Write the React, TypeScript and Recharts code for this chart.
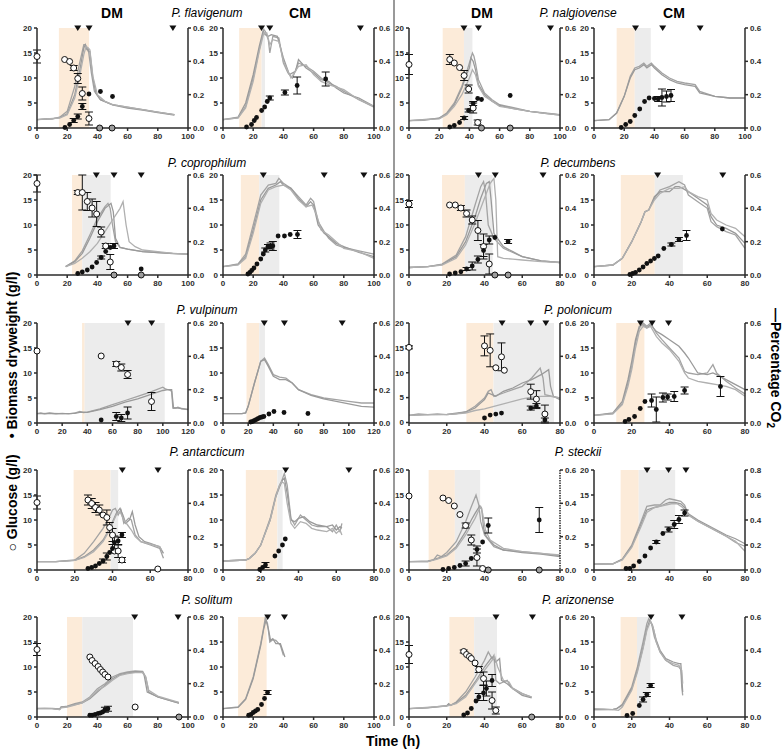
import React from "react";
import {
  ComposedChart,
  ErrorBar,
  Line,
  ReferenceArea,
  Scatter,
  XAxis,
  YAxis,
} from "recharts";

// [time, value, error?] ; phases = [orange start, orange end / gray start, gray end]
const flaDmGlc = [[0, 14.3, 1.3], [18.3, 13.7], [21.6, 13.3], [24.3, 12.0, 0.5], [27, 9.9, 1], [30, 6.9, 1.3], [34.4, 1.9, 1.3], [41.5, 0], [49.7, 0]];
const flaDmBio = [[18.5, 0.1], [21.6, 0.7], [24.3, 1.5, 0.4], [27, 2.3, 0.5], [30, 4.3, 0.6], [34.4, 6.8], [42, 7.3], [50, 6.3]];
const flaDmCo2 = [
  [[0, 0.05], [5, 0.055], [10, 0.055], [15, 0.065], [20, 0.1], [25, 0.25], [28, 0.38], [31, 0.5], [32, 0.5], [33, 0.47], [34, 0.47], [36, 0.33], [38, 0.22], [42, 0.17], [50, 0.14], [60, 0.125], [70, 0.11], [80, 0.095], [91, 0.08]],
  [[0, 0.05], [10, 0.055], [15, 0.062], [20, 0.085], [25, 0.2], [28, 0.33], [31, 0.48], [32, 0.5], [34, 0.46], [35, 0.46], [37, 0.3], [39, 0.21], [42, 0.17], [50, 0.138], [60, 0.12], [70, 0.108], [80, 0.093], [91, 0.078]],
  [[0, 0.05], [15, 0.06], [20, 0.08], [25, 0.18], [28, 0.3], [31, 0.44], [32.5, 0.49], [34, 0.48], [35, 0.47], [37, 0.31], [40, 0.2], [45, 0.16], [50, 0.14], [60, 0.125], [70, 0.11], [80, 0.095], [91, 0.08]],
];
const flaDmPhase = [14.5, 34.5, 34.5];
const flaDmTri = [27, 34.5, 90];

const flaCmGlc: number[][] = [];
const flaCmBio = [[15.6, 0.2], [18.9, 0.7], [20.7, 1.5], [22.2, 2.1], [25.6, 3.5], [27.6, 4.2], [29.3, 5.3], [31, 6.0, 0.4], [41, 7.1, 0.5], [49.1, 8.5, 1.7], [68, 9.8, 1.4]];
const flaCmCo2 = [
  [[0, 0.05], [10, 0.06], [15, 0.13], [20, 0.3], [24, 0.47], [27, 0.59], [28, 0.58], [30, 0.53], [31, 0.45], [33, 0.55], [37, 0.54], [40, 0.39], [43, 0.33], [46, 0.3], [50, 0.39], [55, 0.37], [60, 0.34], [65, 0.3], [70, 0.27], [75, 0.25], [80, 0.22], [90, 0.17], [100, 0.125]],
  [[0, 0.05], [10, 0.065], [15, 0.15], [20, 0.32], [24, 0.49], [26.5, 0.58], [28, 0.56], [30, 0.55], [32, 0.56], [36, 0.55], [40, 0.42], [44, 0.32], [48, 0.34], [50, 0.41], [55, 0.36], [60, 0.33], [65, 0.29], [70, 0.28], [75, 0.24], [80, 0.21], [90, 0.18], [100, 0.13]],
  [[0, 0.05], [10, 0.06], [15, 0.12], [20, 0.28], [24, 0.46], [27, 0.57], [29, 0.57], [31, 0.5], [33, 0.53], [37, 0.52], [40, 0.4], [45, 0.3], [50, 0.37], [55, 0.38], [60, 0.32], [65, 0.28], [70, 0.26], [80, 0.23], [90, 0.17], [100, 0.13]],
];
const flaCmPhase = [10.7, 25.6, 27.8];
const flaCmTri = [25.5, 31, 91];

const nalDmGlc = [[0, 12.7, 2], [27, 13.7, 1], [30, 13.0], [33.5, 12.1], [36.5, 10.5, 1], [39.5, 7.8, 0.8], [42.5, 4.0, 1], [45.5, 1.1, 0.5], [48, 0], [67, 0]];
const nalDmBio = [[27, 0.2], [30, 0.5], [33.5, 1.1], [36.5, 2.0, 0.3], [39.5, 3.5, 0.3], [42.5, 4.9, 0.4], [45.5, 5.9], [48, 5.7], [67, 6.5]];
const nalDmCo2 = [
  [[0, 0.044], [10, 0.046], [20, 0.06], [25, 0.09], [30, 0.15], [35, 0.25], [38, 0.33], [40, 0.39], [42, 0.45], [43, 0.43], [44, 0.39], [46, 0.29], [50, 0.21], [55, 0.17], [60, 0.14], [70, 0.12], [80, 0.1], [90, 0.09], [100, 0.08]],
  [[0, 0.044], [20, 0.058], [25, 0.085], [30, 0.14], [35, 0.24], [38, 0.32], [40, 0.36], [41, 0.42], [42.5, 0.4], [44, 0.35], [46, 0.26], [50, 0.2], [55, 0.16], [60, 0.135], [70, 0.115], [80, 0.1], [90, 0.088], [100, 0.078]],
  [[0, 0.044], [20, 0.055], [25, 0.08], [30, 0.13], [35, 0.2], [38, 0.26], [40, 0.3], [42, 0.35], [44, 0.32], [46, 0.25], [50, 0.19], [55, 0.16], [60, 0.13], [70, 0.115], [80, 0.1], [90, 0.088], [100, 0.078]],
];
const nalDmPhase = [22.3, 36.4, 42];
const nalDmTri = [36.4, 46, 93.7];

const nalCmGlc: number[][] = [];
const nalCmBio = [[18, 0.1], [21, 0.7], [24, 1.3], [27, 2.5], [30.3, 3.8], [33.5, 5.3], [36.5, 6.0], [40, 5.9], [42.5, 5.8, 0.5], [45, 6.1, 1.7], [48, 6.3, 1.1], [51, 6.5, 1.2]];
const nalCmCo2 = [
  [[0, 0.044], [10, 0.05], [15, 0.09], [20, 0.19], [24, 0.31], [27, 0.36], [30, 0.37], [33, 0.39], [35, 0.37], [38, 0.39], [40, 0.37], [45, 0.33], [50, 0.3], [55, 0.28], [60, 0.27], [67, 0.26], [70, 0.22], [80, 0.19], [90, 0.18], [100, 0.18]],
  [[0, 0.044], [10, 0.05], [15, 0.09], [20, 0.19], [24, 0.3], [27, 0.35], [30, 0.36], [33, 0.38], [35, 0.36], [38, 0.38], [40, 0.36], [45, 0.32], [50, 0.29], [55, 0.27], [60, 0.26], [67, 0.25], [70, 0.21], [80, 0.19], [90, 0.18], [100, 0.18]],
];
const nalCmPhase = [15, 27, 37.6];
const nalCmTri = [27.5, 45.5, 70.3];

const copDmGlc = [[0, 18.3, 1.7], [27, 16.5, 0.4], [30, 16.5, 3.5], [33.3, 14.7, 1.8], [36.5, 13.4, 1.8], [39.5, 12.2, 2.5], [42.5, 8.6, 1], [45.5, 5.8, 0.5], [48.5, 2.6, 1.5], [51, 0], [69, 0]];
const copDmBio = [[27, 0.3], [30, 0.6], [33.3, 1.0], [36.5, 1.6], [39.5, 2.5], [42.5, 3.5, 0.3], [45.5, 4.7], [48.5, 5.5], [51, 5.8, 0.5], [69, 1.2]];
const copDmCo2 = [
  [[19, 0.05], [25, 0.085], [30, 0.145], [35, 0.24], [40, 0.34], [45, 0.41], [47, 0.43], [48.5, 0.4], [50, 0.3], [52, 0.2], [55, 0.165], [60, 0.155], [70, 0.14], [80, 0.135], [90, 0.13], [100, 0.125]],
  [[19, 0.05], [25, 0.08], [30, 0.13], [35, 0.22], [40, 0.32], [45, 0.4], [49, 0.43], [50.5, 0.38], [52, 0.22], [55, 0.165], [60, 0.155], [70, 0.14], [80, 0.135], [90, 0.128], [100, 0.125]],
  [[19, 0.05], [25, 0.07], [30, 0.1], [35, 0.14], [40, 0.19], [45, 0.26], [50, 0.33], [55, 0.4], [57, 0.44], [59, 0.3], [61, 0.2], [65, 0.17], [70, 0.15], [80, 0.14], [90, 0.13], [100, 0.125]],
];
const copDmPhase = [23.2, 30, 48.8];
const copDmTri = [39.3, 51, 69];

const copCmGlc: number[][] = [];
const copCmBio = [[16.5, 0.2], [17.8, 0.5], [19, 0.9], [20.5, 1.4], [22.5, 2.2], [25, 3.2], [26.7, 4.2], [28, 5.0, 0.4], [29.8, 5.7, 0.4], [31.5, 5.8, 0.6], [33, 5.8, 0.9], [36.5, 7.8], [40.7, 7.8], [44.5, 8.1], [49.3, 8.1, 0.8]];
const copCmCo2 = [
  [[0, 0.05], [10, 0.066], [15, 0.125], [20, 0.3], [25, 0.48], [30, 0.54], [35, 0.55], [37, 0.58], [40, 0.55], [45, 0.52], [50, 0.47], [55, 0.42], [58, 0.46], [60, 0.44], [63, 0.32], [67, 0.26], [70, 0.22], [75, 0.18], [80, 0.165], [90, 0.145], [100, 0.125]],
  [[0, 0.05], [10, 0.062], [15, 0.11], [20, 0.27], [25, 0.45], [30, 0.52], [35, 0.54], [38, 0.56], [40, 0.54], [45, 0.52], [50, 0.46], [55, 0.41], [58, 0.44], [60, 0.42], [63, 0.3], [67, 0.25], [70, 0.23], [75, 0.19], [80, 0.17], [90, 0.135], [100, 0.11]],
  [[0, 0.05], [10, 0.06], [15, 0.1], [20, 0.25], [25, 0.43], [30, 0.51], [35, 0.53], [40, 0.54], [45, 0.51], [50, 0.45], [55, 0.41], [59, 0.42], [62, 0.36], [65, 0.27], [70, 0.24], [75, 0.2], [80, 0.16], [90, 0.14], [100, 0.1]],
];
const copCmPhase = [11.8, 24, 37.3];
const copCmTri = [26.7, 67, 93.3];

const decDmGlc = [[0, 14.2, 0.7], [21.5, 14.0], [24.5, 14.0], [27.5, 13.4, 0.5], [30.5, 12.3, 0.7], [33.5, 11.0, 0.8], [36.5, 8.9, 2], [39.5, 5.7, 2.5], [42.5, 2.2, 2], [45.5, 0], [52.5, 0]];
const decDmBio = [[21.5, 0.2], [24.5, 0.4], [27.5, 0.65], [30.5, 1.2, 0.3], [33.5, 1.8, 0.8], [36.5, 3.1, 0.7], [39.5, 4.9, 1.2], [42.5, 7.0, 0.8], [45.5, 7.5], [52.5, 6.7, 0.4]];
const decDmCo2 = [
  [[0, 0.045], [10, 0.05], [17.5, 0.065], [25, 0.12], [30, 0.23], [35, 0.42], [38, 0.53], [39.5, 0.56], [40.5, 0.5], [42, 0.3], [45, 0.22], [50, 0.16], [55, 0.135], [60, 0.11], [70, 0.085], [80, 0.075]],
  [[0, 0.045], [10, 0.05], [17.5, 0.062], [25, 0.11], [30, 0.2], [35, 0.35], [38, 0.46], [41, 0.55], [42.5, 0.56], [43.5, 0.45], [45, 0.25], [50, 0.17], [55, 0.14], [60, 0.11], [70, 0.085], [80, 0.075]],
  [[0, 0.045], [10, 0.05], [17.5, 0.06], [25, 0.1], [30, 0.18], [35, 0.31], [38, 0.4], [41, 0.49], [43, 0.55], [45, 0.58], [46, 0.45], [47, 0.11], [50, 0.1], [55, 0.095], [60, 0.09], [70, 0.08], [80, 0.075]],
];
const decDmPhase = [17.5, 29.6, 44.3];
const decDmTri = [36.8, 45.7, 71];

const decCmGlc: number[][] = [];
const decCmBio = [[19, 0.1], [20.5, 0.3], [22, 0.5], [24, 1.0], [26, 1.6], [28, 2.3], [30, 2.8], [32, 3.3], [34, 3.8], [37, 5.3], [41, 6.1, 0.3], [45, 7.1, 0.4], [49, 7.9, 1], [68, 9.2]];
const decCmCo2 = [
  [[0, 0.05], [10, 0.06], [15, 0.1], [20, 0.2], [25, 0.32], [27, 0.38], [29, 0.39], [32, 0.46], [35, 0.51], [40, 0.53], [45, 0.56], [48, 0.54], [50, 0.48], [55, 0.44], [60, 0.4], [62, 0.32], [65, 0.29], [70, 0.26], [75, 0.24], [80, 0.16]],
  [[0, 0.05], [10, 0.06], [15, 0.1], [20, 0.2], [25, 0.32], [27, 0.38], [29, 0.39], [32, 0.47], [35, 0.5], [40, 0.5], [43, 0.53], [45, 0.53], [47, 0.52], [50, 0.5], [55, 0.46], [60, 0.42], [62, 0.35], [65, 0.3], [70, 0.28], [75, 0.25], [80, 0.19]],
  [[0, 0.05], [10, 0.06], [15, 0.1], [20, 0.2], [25, 0.32], [27, 0.38], [29, 0.39], [32, 0.45], [35, 0.49], [40, 0.52], [45, 0.52], [48, 0.53], [50, 0.5], [55, 0.47], [60, 0.45], [62, 0.37], [65, 0.33], [70, 0.3], [75, 0.28], [80, 0.23]],
];
const decCmPhase = [14.2, 32.2, 47.1];
const decCmTri = [33.7, 68.2];

const vulDmGlc = [[0, 14.4], [51, 13.4], [63, 11.8, 0.5], [67, 11.1, 0.7], [72, 9.7, 0.8], [91, 4.3, 1.8]];
const vulDmBio = [[51, 0.6], [63, 1.3, 0.8], [67, 1.0, 0.7], [72, 2.0, 1.2]];
const vulDmCo2 = [
  [[0, 0.056], [3, 0.06], [6, 0.055], [10, 0.06], [15, 0.055], [20, 0.058], [25, 0.055], [30, 0.06], [34, 0.07], [37, 0.063], [40, 0.065], [50, 0.085], [60, 0.11], [70, 0.135], [80, 0.16], [90, 0.185], [100, 0.215], [102, 0.205], [106, 0.195], [107, 0.19], [108, 0.09], [110, 0.09], [112, 0.095], [115, 0.085], [120, 0.08]],
  [[0, 0.056], [10, 0.058], [20, 0.056], [30, 0.058], [35, 0.065], [40, 0.064], [50, 0.08], [60, 0.1], [70, 0.125], [80, 0.145], [90, 0.17], [100, 0.195], [104, 0.2], [107, 0.2], [108.5, 0.09], [112, 0.09], [120, 0.082]],
];
const vulDmPhase = [35.8, 37.9, 101.5];
const vulDmTri = [72.3, 91.1];

const vulCmGlc: number[][] = [];
const vulCmBio = [[22, 0.2], [23.5, 0.3], [25, 0.5], [26.5, 0.7], [28, 0.9], [29.5, 1.1], [31, 1.2], [32.5, 1.3], [36.5, 1.8], [40.5, 2.3], [48.5, 2.1], [67.5, 1.9]];
const vulCmCo2 = [
  [[0, 0.056], [10, 0.056], [15, 0.056], [18, 0.06], [20, 0.1], [25, 0.24], [30, 0.37], [33, 0.39], [36, 0.35], [40, 0.29], [45, 0.275], [50, 0.27], [55, 0.24], [60, 0.2], [70, 0.17], [80, 0.15], [90, 0.14], [100, 0.13], [110, 0.12], [120, 0.12]],
  [[0, 0.056], [15, 0.056], [18, 0.06], [20, 0.1], [25, 0.24], [30, 0.37], [33, 0.38], [36, 0.34], [40, 0.28], [45, 0.26], [50, 0.26], [55, 0.24], [60, 0.2], [70, 0.165], [80, 0.145], [90, 0.13], [100, 0.115], [110, 0.1], [120, 0.095]],
];
const vulCmPhase = [18.7, 28.8, 33.3];
const vulCmTri = [32.8, 48.8, 94.7];

const polDmGlc = [[0, 15.1, 0.3], [40, 15.4, 2], [43, 14.5, 3.3], [46, 11.0], [49, 13.2, 2.8], [50.5, 10.5], [64.5, 6.2, 1.5], [67.5, 4.7, 1.7], [72, 1.7, 1.8]];
const polDmBio = [[40, 0.9], [43, 1.5], [46, 1.7], [49, 1.9], [64.5, 2.9, 0.4], [67.5, 3.3, 0.5], [72, 0.5, 0.4]];
const polDmCo2 = [
  [[0, 0.046], [5, 0.055], [10, 0.05], [15, 0.055], [20, 0.05], [25, 0.055], [30, 0.066], [35, 0.1], [40, 0.15], [42, 0.19], [43.5, 0.2], [45, 0.16], [50, 0.18], [55, 0.2], [60, 0.22], [65, 0.27], [69.5, 0.33], [71, 0.27], [72, 0.17], [76, 0.16], [80, 0.15]],
  [[0, 0.046], [10, 0.05], [20, 0.052], [30, 0.066], [35, 0.09], [40, 0.14], [42, 0.18], [44, 0.17], [46, 0.16], [50, 0.19], [55, 0.21], [60, 0.24], [65, 0.26], [70, 0.29], [74, 0.32], [75, 0.22], [76.5, 0.16], [80, 0.14]],
  [[0, 0.046], [10, 0.05], [20, 0.05], [30, 0.06], [35, 0.075], [40, 0.085], [45, 0.1], [50, 0.115], [55, 0.13], [60, 0.145], [65, 0.155], [70, 0.16], [75, 0.16], [80, 0.15]],
];
const polDmPhase = [30.4, 44.8, 76.8];
const polDmTri = [49.3, 64.5, 72.5];

const polCmGlc: number[][] = [];
const polCmBio = [[16.5, 0.3], [18.5, 0.7], [21.5, 1.3], [24.5, 2.9], [27, 4.3], [30.5, 4.5, 1.3], [33, 2.7, 2.5], [36.5, 5.1, 0.9], [39, 5.2, 0.6], [42.5, 5.3, 1], [48, 6.5, 0.7], [67, 7.3, 2]];
const polCmCo2 = [
  [[0, 0.046], [10, 0.056], [15, 0.116], [18, 0.24], [20, 0.34], [22, 0.48], [24, 0.57], [26, 0.6], [28, 0.58], [30, 0.6], [33, 0.54], [36, 0.5], [40, 0.45], [45, 0.39], [48, 0.31], [50, 0.3], [55, 0.29], [60, 0.3], [63, 0.35], [65, 0.3], [70, 0.25], [75, 0.21], [80, 0.175]],
  [[0, 0.046], [10, 0.06], [15, 0.13], [18, 0.26], [20, 0.37], [22, 0.5], [24, 0.58], [26, 0.59], [28, 0.57], [30, 0.59], [33, 0.55], [36, 0.53], [40, 0.5], [45, 0.46], [48, 0.42], [50, 0.39], [55, 0.3], [60, 0.29], [63, 0.3], [65, 0.29], [70, 0.26], [75, 0.23], [80, 0.2]],
  [[0, 0.046], [10, 0.055], [15, 0.11], [18, 0.22], [20, 0.32], [22, 0.45], [24, 0.55], [26, 0.58], [28, 0.57], [30, 0.58], [33, 0.52], [36, 0.48], [40, 0.44], [45, 0.37], [48, 0.3], [50, 0.27], [55, 0.25], [60, 0.24], [65, 0.23], [70, 0.22], [75, 0.2], [80, 0.16]],
];
const polCmPhase = [11.8, 26.7, 26.7];
const polCmTri = [24.6, 30.8, 39.5];

const antDmGlc = [[0, 13.5, 1.3], [27, 14.0, 1], [29, 13.3, 1], [31, 12.5, 1], [33, 12.0, 1], [35, 11.0], [37, 10.5, 1.5], [38.5, 8.5, 1], [40, 7.0, 1.3], [41, 3.8], [43, 3.8, 1.3], [45, 2.0, 0.5], [64, 0.2]];
const antDmBio = [[27, 0.3], [29, 0.5], [31, 0.8], [33, 1.3], [35, 1.8, 0.4], [37, 2.7, 0.7], [38.5, 3.5], [40, 4.3, 0.8], [41, 5.5, 1.3], [43, 5.8, 0.8], [45, 7.0, 0.5]];
const antDmCo2 = [
  [[0, 0.05], [10, 0.05], [20, 0.06], [25, 0.1], [30, 0.17], [35, 0.25], [38, 0.31], [40, 0.36], [41.5, 0.37], [43, 0.33], [44.5, 0.36], [46, 0.28], [48.5, 0.31], [50, 0.3], [52, 0.21], [55, 0.17], [60, 0.15], [65, 0.13], [67, 0.07]],
  [[0, 0.05], [10, 0.05], [20, 0.058], [25, 0.08], [30, 0.12], [35, 0.18], [38, 0.24], [40, 0.29], [42, 0.34], [44, 0.37], [45.5, 0.33], [47, 0.28], [49, 0.3], [50.5, 0.35], [52, 0.27], [54, 0.2], [57, 0.17], [60, 0.16], [65, 0.14], [67, 0.1]],
  [[0, 0.05], [10, 0.05], [20, 0.058], [25, 0.075], [30, 0.11], [35, 0.17], [38, 0.23], [40, 0.28], [42, 0.33], [44, 0.35], [46, 0.3], [48, 0.27], [50, 0.24], [52, 0.2], [55, 0.17], [60, 0.155], [65, 0.14], [66, 0.12]],
];
const antDmPhase = [19.4, 39, 43];
const antDmTri = [45.2, 64.1];

const antCmGlc: number[][] = [];
const antCmBio = [[19.5, 0.1], [21, 0.5], [22.5, 1.0, 0.5], [27.5, 2.8], [29.5, 3.8], [31.5, 5.0], [33, 6.2]];
const antCmCo2 = [
  [[0, 0.054], [12, 0.06], [14, 0.07], [17, 0.1], [20, 0.15], [25, 0.31], [28, 0.45], [30, 0.51], [31, 0.53], [32.5, 0.58], [34, 0.51], [36, 0.31], [38, 0.27], [41, 0.33], [44, 0.3], [47, 0.27], [50, 0.26], [55, 0.26], [58, 0.23], [60, 0.27], [62, 0.23], [63, 0.28]],
  [[0, 0.054], [12, 0.06], [14, 0.07], [17, 0.1], [20, 0.15], [25, 0.3], [28, 0.44], [30, 0.5], [31.5, 0.54], [32.5, 0.55], [34, 0.46], [36, 0.3], [38, 0.29], [40, 0.31], [43, 0.32], [46, 0.29], [50, 0.27], [55, 0.26], [58, 0.27], [60, 0.24], [62, 0.26], [63, 0.25]],
  [[0, 0.054], [12, 0.06], [14, 0.07], [17, 0.1], [20, 0.15], [25, 0.3], [28, 0.44], [30, 0.51], [31, 0.53], [32.5, 0.52], [34, 0.4], [36, 0.28], [38, 0.25], [41, 0.29], [44, 0.28], [47, 0.25], [50, 0.24], [55, 0.23], [58, 0.25], [60, 0.22], [62, 0.24], [63, 0.21]],
];
const antCmPhase = [12.1, 28.8, 31.6];
const antCmTri = [33.2, 66.7];

const steDmGlc = [[0, 14.8], [18, 14.4], [21, 13.9], [24, 12.8], [27, 11.1], [30, 8.9, 0.5], [33, 6.0, 1], [36, 2.5, 1.7], [39, 0.3], [42, 0], [69, 0]];
const steDmBio = [[18, 0.1], [21, 0.3], [24, 0.5], [27, 0.9], [30, 1.3, 0.5], [33, 2.3], [36, 4.1, 0.7], [39, 5.6], [42, 8.9, 1.5], [69, 10.0, 2.5]];
const steDmCo2 = [
  [[0, 0.05], [10, 0.054], [13, 0.06], [15, 0.09], [17, 0.08], [20, 0.105], [25, 0.17], [30, 0.29], [33, 0.38], [35.5, 0.45], [37, 0.39], [38, 0.29], [40, 0.21], [45, 0.14], [50, 0.12], [60, 0.11], [70, 0.1], [80, 0.085]],
  [[0, 0.05], [10, 0.05], [15, 0.07], [20, 0.09], [25, 0.14], [30, 0.23], [33, 0.3], [35, 0.34], [37.5, 0.385], [38.5, 0.37], [39.5, 0.25], [41, 0.2], [45, 0.15], [50, 0.12], [60, 0.105], [70, 0.095], [80, 0.08]],
  [[0, 0.05], [10, 0.05], [15, 0.065], [20, 0.085], [25, 0.13], [30, 0.21], [33, 0.27], [35, 0.31], [37, 0.36], [38, 0.38], [39, 0.34], [40.5, 0.24], [43, 0.18], [50, 0.13], [60, 0.11], [70, 0.1], [80, 0.09]],
];
const steDmPhase = [10.4, 24.3, 37.7];
const steDmTri: number[] = [];

const steCmGlc: number[][] = [];
const steCmBio = [[17, 0.3], [19, 0.3], [21, 0.8], [24, 1.7], [27, 2.8], [30, 4.4], [33, 5.6, 0.3], [36.5, 7.3], [39.5, 8.1, 0.5], [42.5, 9.1, 0.8], [45, 10.1, 0.8], [48, 11.4, 0.6]];
const steCmCo2 = [
  [[0, 0.047], [10, 0.05], [15, 0.088], [20, 0.2], [25, 0.39], [28, 0.51], [32, 0.52], [35, 0.52], [38, 0.56], [40, 0.57], [43, 0.56], [46, 0.55], [48, 0.52], [50, 0.44], [55, 0.39], [60, 0.35], [65, 0.31], [70, 0.27], [75, 0.22], [80, 0.19]],
  [[0, 0.047], [10, 0.05], [15, 0.085], [20, 0.19], [25, 0.37], [28, 0.48], [32, 0.5], [35, 0.51], [38, 0.53], [40, 0.54], [43, 0.54], [46, 0.53], [48, 0.5], [50, 0.45], [55, 0.4], [60, 0.36], [65, 0.32], [70, 0.28], [75, 0.25], [80, 0.21]],
  [[0, 0.047], [10, 0.05], [15, 0.08], [20, 0.18], [25, 0.35], [28, 0.46], [32, 0.5], [35, 0.51], [38, 0.52], [41, 0.53], [44, 0.53], [47, 0.5], [50, 0.44], [55, 0.39], [60, 0.35], [65, 0.31], [70, 0.27], [75, 0.23], [80, 0.15]],
];
const steCmPhase = [14.1, 23.7, 43];
const steCmTri = [28.1, 39.5, 48.7];

const solDmGlc = [[0, 13.5, 1.2], [35, 12.0], [36.5, 11.3], [38.5, 10.7], [40.5, 10.1], [42, 9.5], [43.5, 9.0], [45, 8.5], [47, 8.0], [65, 2.0], [94, 0]];
const solDmBio = [[35, 0.35], [36.5, 0.35], [38.5, 0.5], [40.5, 0.7], [42, 0.8], [43.5, 1.0], [45, 1.45, 0.5], [47, 1.65, 0.5]];
const solDmCo2 = [
  [[0, 0.05], [5, 0.052], [10, 0.05], [15, 0.045], [16, 0.06], [20, 0.065], [25, 0.08], [30, 0.09], [35, 0.12], [40, 0.17], [45, 0.2], [50, 0.24], [55, 0.26], [60, 0.27], [65, 0.276], [70, 0.274], [72, 0.24], [74, 0.15], [80, 0.12], [90, 0.094], [94, 0.084]],
  [[0, 0.052], [10, 0.052], [15, 0.048], [16, 0.06], [20, 0.062], [25, 0.075], [30, 0.085], [35, 0.11], [40, 0.15], [45, 0.19], [50, 0.23], [55, 0.255], [60, 0.265], [65, 0.27], [70, 0.268], [71, 0.25], [73, 0.15], [80, 0.12], [90, 0.094], [94, 0.084]],
  [[0, 0.05], [10, 0.05], [15, 0.045], [16, 0.055], [20, 0.06], [25, 0.072], [30, 0.085], [35, 0.115], [40, 0.16], [45, 0.185], [50, 0.22], [55, 0.25], [60, 0.26], [65, 0.266], [70, 0.266], [72, 0.24], [74, 0.16], [80, 0.125], [90, 0.098], [94, 0.088]],
];
const solDmPhase = [19.9, 30, 63.6];
const solDmTri = [64.7, 93.4];

const solCmGlc: number[][] = [];
const solCmBio = [[17, 0.35], [18.5, 0.5], [20, 0.9], [21.5, 1.2], [23, 1.5], [25.5, 2.5], [27.5, 3.7], [29.5, 4.9, 0.4]];
const solCmCo2 = [
  [[0, 0.05], [10, 0.06], [15, 0.11], [20, 0.24], [25, 0.44], [27, 0.54], [28, 0.596], [29.5, 0.56], [31, 0.45], [33, 0.464], [35, 0.46], [38, 0.43], [40, 0.37]],
  [[0, 0.05], [10, 0.058], [15, 0.105], [20, 0.23], [25, 0.43], [27, 0.53], [28.5, 0.58], [30, 0.53], [31.5, 0.46], [33, 0.47], [35, 0.44], [38, 0.44], [41, 0.36]],
];
const solCmPhase = [10, 28.9, 28.9];
const solCmTri = [29.6, 40.7];

const ariDmGlc = [[0, 12.5, 1.8], [29, 13.1, 0.3], [30.5, 12.5], [32, 12.1], [33, 11.7], [35, 10.8], [37, 9.5, 0.6], [39.5, 7.7, 1.3], [44, 3.3, 1.7], [46, 1.3, 0.7], [65, 0]];
const ariDmBio = [[29, 0.4], [31, 0.8], [33, 1.7], [35.5, 3.2], [37, 4.0, 0.7], [39.5, 4.8, 1.5], [41, 5.7, 1.5], [44, 7.3, 1.2]];
const ariDmCo2 = [
  [[0, 0.05], [10, 0.056], [20, 0.068], [21, 0.08], [22, 0.07], [25, 0.09], [30, 0.15], [35, 0.24], [40, 0.34], [42, 0.39], [44, 0.35], [45, 0.37], [46, 0.22], [48, 0.2], [50, 0.21], [52, 0.22], [54, 0.18], [60, 0.14], [65, 0.12]],
  [[0, 0.05], [10, 0.055], [20, 0.066], [21, 0.078], [22, 0.07], [25, 0.085], [30, 0.13], [35, 0.21], [40, 0.3], [44, 0.36], [46, 0.33], [47, 0.34], [48, 0.35], [49, 0.22], [52, 0.2], [55, 0.17], [60, 0.13], [65, 0.115]],
  [[0, 0.05], [20, 0.066], [25, 0.08], [30, 0.12], [35, 0.2], [40, 0.28], [44, 0.34], [45.5, 0.36], [47, 0.3], [50, 0.22], [53, 0.21], [55, 0.17], [60, 0.14], [65, 0.12]],
];
const ariDmPhase = [21.4, 34.5, 46.6];
const ariDmTri = [46.1, 65.4];

const ariCmGlc: number[][] = [];
const ariCmBio = [[17.5, 0.3], [20.5, 0.7], [24, 2.3], [26, 3.5, 0.5], [28, 4.5, 0.4], [30, 6.3, 0.4]];
const ariCmCo2 = [
  [[0, 0.044], [10, 0.044], [12, 0.05], [15, 0.076], [20, 0.18], [23, 0.3], [26, 0.45], [28, 0.56], [29, 0.59], [30.5, 0.56], [32, 0.48], [35, 0.39], [38, 0.34], [42, 0.31], [45, 0.3], [46, 0.285], [46.5, 0.18], [47, 0.13]],
  [[0, 0.044], [10, 0.046], [12, 0.05], [15, 0.07], [20, 0.17], [23, 0.28], [26, 0.42], [28, 0.53], [29.5, 0.58], [31, 0.55], [33, 0.46], [35, 0.4], [38, 0.35], [42, 0.33], [45, 0.32], [46, 0.32], [47, 0.15]],
  [[0, 0.05], [5, 0.048], [10, 0.044], [13, 0.04], [15, 0.06], [20, 0.16], [23, 0.27], [26, 0.41], [28, 0.52], [30, 0.575], [31.5, 0.53], [33, 0.45], [35, 0.39], [38, 0.34], [42, 0.32], [45, 0.31], [46.5, 0.28], [47, 0.2]],
];
const ariCmPhase = [14.1, 22.8, 29.9];
const ariCmTri = [30.2, 46.6];

const leftSpecies = ["P. flavigenum", "P. coprophilum", "P. vulpinum", "P. antarcticum", "P. solitum"];
const rightSpecies = ["P. nalgiovense", "P. decumbens", "P. polonicum", "P. steckii", "P. arizonense"];

// one row per grid row: [leftDM, leftCM, rightDM, rightCM]
const panels = [
  [
    { glc: flaDmGlc, bio: flaDmBio, co2: flaDmCo2, phase: flaDmPhase, tri: flaDmTri, xMax: 100, cMax: 0.6 },
    { glc: flaCmGlc, bio: flaCmBio, co2: flaCmCo2, phase: flaCmPhase, tri: flaCmTri, xMax: 100, cMax: 0.6 },
    { glc: nalDmGlc, bio: nalDmBio, co2: nalDmCo2, phase: nalDmPhase, tri: nalDmTri, xMax: 100, cMax: 0.6 },
    { glc: nalCmGlc, bio: nalCmBio, co2: nalCmCo2, phase: nalCmPhase, tri: nalCmTri, xMax: 100, cMax: 0.6 },
  ],
  [
    { glc: copDmGlc, bio: copDmBio, co2: copDmCo2, phase: copDmPhase, tri: copDmTri, xMax: 100, cMax: 0.6 },
    { glc: copCmGlc, bio: copCmBio, co2: copCmCo2, phase: copCmPhase, tri: copCmTri, xMax: 100, cMax: 0.6 },
    { glc: decDmGlc, bio: decDmBio, co2: decDmCo2, phase: decDmPhase, tri: decDmTri, xMax: 80, cMax: 0.6 },
    { glc: decCmGlc, bio: decCmBio, co2: decCmCo2, phase: decCmPhase, tri: decCmTri, xMax: 80, cMax: 0.6 },
  ],
  [
    { glc: vulDmGlc, bio: vulDmBio, co2: vulDmCo2, phase: vulDmPhase, tri: vulDmTri, xMax: 120, cMax: 0.6 },
    { glc: vulCmGlc, bio: vulCmBio, co2: vulCmCo2, phase: vulCmPhase, tri: vulCmTri, xMax: 120, cMax: 0.6 },
    { glc: polDmGlc, bio: polDmBio, co2: polDmCo2, phase: polDmPhase, tri: polDmTri, xMax: 80, cMax: 0.6 },
    { glc: polCmGlc, bio: polCmBio, co2: polCmCo2, phase: polCmPhase, tri: polCmTri, xMax: 80, cMax: 0.6 },
  ],
  [
    { glc: antDmGlc, bio: antDmBio, co2: antDmCo2, phase: antDmPhase, tri: antDmTri, xMax: 80, cMax: 0.6 },
    { glc: antCmGlc, bio: antCmBio, co2: antCmCo2, phase: antCmPhase, tri: antCmTri, xMax: 80, cMax: 0.6 },
    { glc: steDmGlc, bio: steDmBio, co2: steDmCo2, phase: steDmPhase, tri: steDmTri, xMax: 80, cMax: 0.6, dotted: true },
    { glc: steCmGlc, bio: steCmBio, co2: steCmCo2, phase: steCmPhase, tri: steCmTri, xMax: 80, cMax: 0.8 },
  ],
  [
    { glc: solDmGlc, bio: solDmBio, co2: solDmCo2, phase: solDmPhase, tri: solDmTri, xMax: 100, cMax: 0.6 },
    { glc: solCmGlc, bio: solCmBio, co2: solCmCo2, phase: solCmPhase, tri: solCmTri, xMax: 100, cMax: 0.6 },
    { glc: ariDmGlc, bio: ariDmBio, co2: ariDmCo2, phase: ariDmPhase, tri: ariDmTri, xMax: 80, cMax: 0.6 },
    { glc: ariCmGlc, bio: ariCmBio, co2: ariCmCo2, phase: ariCmPhase, tri: ariCmTri, xMax: 80, cMax: 0.6 },
  ],
];

const colX = [37, 223, 409, 594];
const rowY = [28, 175, 323, 470, 617];
const titleY = [13, 163, 310, 452, 600];

const PW = 151;
const PH = 100;
const AXL = 22;
const AXR = 24;
const M = { top: 6, right: 2, bottom: 0, left: 2 };
const FONT = "'Liberation Sans', Arial, sans-serif";
const tickStyle = { fontSize: 8, fontWeight: 700, fill: "#2b2b2b", fontFamily: FONT };
const lineColors = ["#a3a3a3", "#9a9a9a", "#b0b0b0"];

const toPts = (arr: number[][]) =>
  arr.map(([t, v, e]) => ({ t, v, e: e ? e : undefined }));

const OpenDot = (p: any) => (
  <circle cx={p.cx} cy={p.cy} r={3} fill={p.payload.v === 0 ? "#9d9d9d" : "#fff"} stroke="#111" strokeWidth={1} />
);
const FullDot = (p: any) => <circle cx={p.cx} cy={p.cy} r={2.4} fill="#111" />;
const Tri = (p: any) => (
  <path d={`M${p.cx - 3.5},${p.cy - 2.5}L${p.cx + 3.5},${p.cy - 2.5}L${p.cx},${p.cy + 3}Z`} fill="#111" />
);

function Panel({ cfg, left, top }: any) {
  const glc = toPts(cfg.glc);
  const bio = toPts(cfg.bio);
  const tri = cfg.tri.map((t: number) => ({ t, v: 20 }));
  const xTicks: number[] = [];
  for (let t = 0; t <= cfg.xMax; t += 20) xTicks.push(t);
  const cTicks: number[] = [];
  for (let c = 0; c <= cfg.cMax + 1e-9; c += 0.2) cTicks.push(Math.round(c * 10) / 10);
  const [o1, o2, g2] = cfg.phase;
  const axis = { stroke: "#2b2b2b", strokeWidth: 1.5 };
  return (
    <div style={{ position: "absolute", left: left - AXL - M.left, top: top - M.top }}>
      <ComposedChart width={M.left + AXL + PW + AXR + M.right} height={M.top + PH + 14 + M.bottom} margin={M}>
        <XAxis
          type="number"
          dataKey="t"
          domain={[0, cfg.xMax]}
          ticks={xTicks}
          height={14}
          tickSize={3}
          tick={tickStyle}
          axisLine={axis}
          tickLine={axis}
        />
        <YAxis
          yAxisId="g"
          domain={[0, 20]}
          ticks={[0, 5, 10, 15, 20]}
          width={AXL}
          tickSize={3}
          tick={tickStyle}
          axisLine={axis}
          tickLine={axis}
        />
        <YAxis
          yAxisId="c"
          orientation="right"
          domain={[0, cfg.cMax]}
          ticks={cTicks}
          width={AXR}
          tickSize={3}
          tick={tickStyle}
          tickFormatter={(v: number) => v.toFixed(1)}
          axisLine={cfg.dotted ? { ...axis, strokeDasharray: "1.5 1" } : axis}
          tickLine={axis}
        />
        <ReferenceArea yAxisId="g" x1={o1} x2={o2} y1={0} y2={20} fill="#fcebd9" fillOpacity={1} stroke="none" />
        {g2 > o2 && (
          <ReferenceArea yAxisId="g" x1={o2} x2={g2} y1={0} y2={20} fill="#ececec" fillOpacity={1} stroke="none" />
        )}
        {cfg.co2.map((run: number[][], i: number) => (
          <Line
            key={i}
            yAxisId="c"
            data={run.map(([t, c]) => ({ t, c }))}
            dataKey="c"
            type="linear"
            stroke={lineColors[i]}
            strokeWidth={1.3}
            dot={false}
            activeDot={false}
            isAnimationActive={false}
          />
        ))}
        {glc.length > 0 && (
          <Scatter yAxisId="g" data={glc} dataKey="v" shape={OpenDot} isAnimationActive={false}>
            <ErrorBar dataKey="e" direction="y" width={4} stroke="#111" strokeWidth={1} />
          </Scatter>
        )}
        <Scatter yAxisId="g" data={bio} dataKey="v" shape={FullDot} isAnimationActive={false}>
          <ErrorBar dataKey="e" direction="y" width={4} stroke="#111" strokeWidth={1} />
        </Scatter>
        {tri.length > 0 && (
          <Scatter yAxisId="g" data={tri} dataKey="v" shape={Tri} isAnimationActive={false} />
        )}
      </ComposedChart>
    </div>
  );
}

export default function App() {
  return (
    <div style={{ position: "absolute", left: 0, top: 0, width: 784, height: 753, background: "#fff", fontFamily: FONT }}>
      {panels.map((row, r) =>
        row.map((cfg, c) => <Panel key={`${r}-${c}`} cfg={cfg} left={colX[c]} top={rowY[r]} />)
      )}
      <svg width={784} height={753} style={{ position: "absolute", left: 0, top: 0, pointerEvents: "none" }}>
        <line x1={394} y1={0} x2={394} y2={726} stroke="#555" strokeWidth={1.2} />
        <text x={112} y={18} textAnchor="middle" fontSize={14} fontWeight={700} fontFamily={FONT}>DM</text>
        <text x={300} y={18} textAnchor="middle" fontSize={14} fontWeight={700} fontFamily={FONT}>CM</text>
        <text x={482} y={18} textAnchor="middle" fontSize={14} fontWeight={700} fontFamily={FONT}>DM</text>
        <text x={674} y={18} textAnchor="middle" fontSize={14} fontWeight={700} fontFamily={FONT}>CM</text>
        {leftSpecies.map((s, i) => (
          <text key={s} x={207} y={titleY[i] + 4} textAnchor="middle" fontSize={12} fontStyle="italic" fontFamily={FONT}>{s}</text>
        ))}
        {rightSpecies.map((s, i) => (
          <text key={s} x={578} y={titleY[i] + 4} textAnchor="middle" fontSize={12} fontStyle="italic" fontFamily={FONT}>{s}</text>
        ))}
        <text transform="translate(17,355) rotate(-90)" textAnchor="middle" fontSize={14} fontWeight={700} fontFamily={FONT}>• Biomass dryweight (g/l)</text>
        <text transform="translate(17,503) rotate(-90)" textAnchor="middle" fontSize={14} fontWeight={700} fontFamily={FONT}>○ Glucose (g/l)</text>
        <text transform="translate(771,368) rotate(90)" textAnchor="middle" fontSize={14} fontWeight={700} fontFamily={FONT}>
          —Percentage CO<tspan fontSize={10} dy={4}>2</tspan>
        </text>
        <text x={393} y={746} textAnchor="middle" fontSize={14} fontWeight={700} fontFamily={FONT}>Time (h)</text>
      </svg>
    </div>
  );
}
